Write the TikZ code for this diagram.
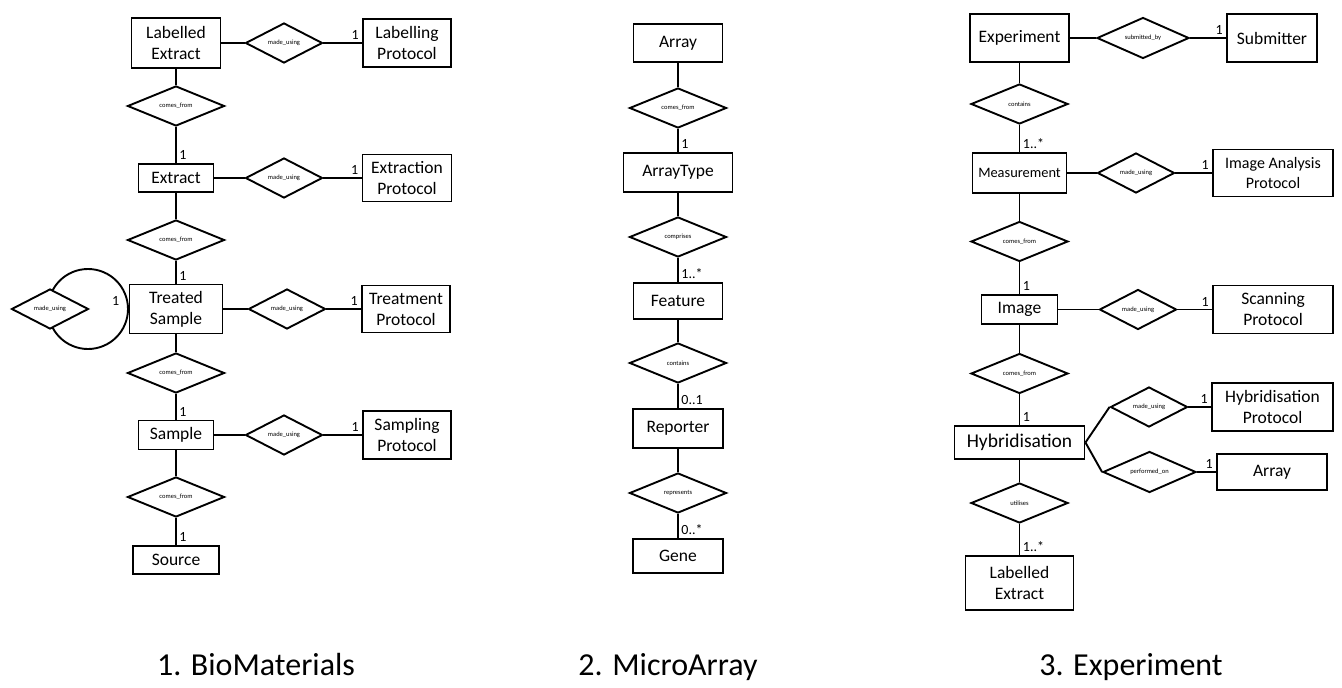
\documentclass[tikz,border=0pt]{standalone}
\usepackage{fontspec}
\setmainfont{Carlito}
\usetikzlibrary{shapes.geometric}

\begin{document}
\begin{tikzpicture}[x=1pt, y=-1pt, line width=1.9pt,
        ENT/.style = {draw, fill=white, align=center, inner sep=1pt,
                      font=\fontsize{17.5}{21}\selectfont},
        REL/.style = {diamond, draw, fill=white, aspect=2.4, inner sep=0pt,
                      minimum width=97pt, minimum height=40pt,
                      font=\fontsize{6.5}{7}\selectfont},
        narrow/.style = {minimum width=77pt},
        MUL/.style = {inner sep=2.5pt, font=\fontsize{14}{14}\selectfont},
        TTL/.style = {anchor=base, font=\fontsize{32}{32}\selectfont} ]

\useasboundingbox (0,0) rectangle (1342,688);

% 1. BioMaterials
\node[circle, draw, minimum size=80pt] (loop) at (88,309) {};
\node[ENT, minimum width=89pt, minimum height=50pt] (labext)    at (176,43)  {Labelled\\Extract};
\node[REL, narrow]                                  (mu1)       at (284,43)  {made\_using};
\node[ENT, minimum width=88pt, minimum height=48pt] (labprot)   at (407,43)  {Labelling\\Protocol};
\node[REL]                                          (cf1)       at (176,106) {comes\_from};
\node[ENT, minimum width=75pt, minimum height=28pt] (extract)   at (176,178) {Extract};
\node[REL, narrow]                                  (mu2)       at (284,178) {made\_using};
\node[ENT, minimum width=89pt, minimum height=47pt] (extprot)   at (407,178) {Extraction\\Protocol};
\node[REL]                                          (cf2)       at (176,240) {comes\_from};
\node[ENT, minimum width=93pt, minimum height=49pt] (treated)   at (176,309) {Treated\\Sample};
\node[REL, narrow]                                  (mu3)       at (287,309) {made\_using};
\node[ENT, minimum width=88pt, minimum height=47pt] (treatprot) at (406,309) {Treatment\\Protocol};
\node[REL, narrow]                                  (self)      at (50,309)  {made\_using};
\node[REL]                                          (cf3)       at (176,373) {comes\_from};
\node[ENT, minimum width=75pt, minimum height=29pt] (sample)    at (176,435) {Sample};
\node[REL, narrow]                                  (mu5)       at (284,435) {made\_using};
\node[ENT, minimum width=88pt, minimum height=48pt] (sampprot)  at (407,435) {Sampling\\Protocol};
\node[REL]                                          (cf4)       at (176,497) {comes\_from};
\node[ENT, minimum width=86pt, minimum height=28pt] (source)    at (176,560) {Source};
\node[TTL] (title1) at (256,675) {1. BioMaterials};

% 2. MicroArray
\node[ENT, minimum width=89pt, minimum height=38pt]  (array)    at (678,43)    {Array};
\node[REL]                                           (cf5)      at (678,108)   {comes\_from};
\node[ENT, minimum width=109pt, minimum height=39pt] (arrtype)  at (678,172.5) {ArrayType};
\node[REL]                                           (compr)    at (678,237)   {comprises};
\node[ENT, minimum width=89pt, minimum height=36pt]  (feature)  at (678,301)   {Feature};
\node[REL]                                           (contain)  at (678,363)   {contains};
\node[ENT, minimum width=90pt, minimum height=39pt]  (reporter) at (678,428.5) {Reporter};
\node[REL]                                           (repres)   at (678,493)   {represents};
\node[ENT, minimum width=90pt, minimum height=34pt]  (gene)     at (678,556)   {Gene};
\node[TTL] (title2) at (668,675) {2. MicroArray};

% 3. Experiment
\node[ENT, minimum width=99pt, minimum height=48pt]  (expt)      at (1019.5,38)  {Experiment};
\node[REL, minimum width=92pt, minimum height=41pt]  (subby)     at (1143,38)    {submitted\_by};
\node[ENT, minimum width=90pt, minimum height=48pt]  (submitter) at (1272,38)    {Submitter};
\node[REL]                                           (contain2)  at (1019.5,104) {contains};
\node[ENT, minimum width=94pt, minimum height=40pt,
      font=\fontsize{14.4}{17}\selectfont]           (measure)   at (1019.5,173) {Measurement};
\node[REL, narrow]                                   (mu6)       at (1136,173)   {made\_using};
\node[ENT, minimum width=120pt, minimum height=47pt,
      font=\fontsize{16}{20}\selectfont]             (iaprot)    at (1273,173)   {Image Analysis\\Protocol};
\node[REL]                                           (cf6)       at (1019.5,241.5) {comes\_from};
\node[ENT, minimum width=76pt, minimum height=29pt]  (image)     at (1019.5,309.5) {Image};
\node[REL, narrow]                                   (mu7)       at (1138,309.5) {made\_using};
\node[ENT, minimum width=120pt, minimum height=48pt] (scanprot)  at (1273,309.5) {Scanning\\Protocol};
\node[REL]                                           (cf7)       at (1019.5,373.5) {comes\_from};
\node[ENT, minimum width=130pt, minimum height=33pt,
      font=\fontsize{19.5}{22}\selectfont]           (hyb)       at (1019.5,442.5) {Hybridisation};
\node[REL, narrow]                                   (mu8)       at (1149,407)   {made\_using};
\node[ENT, minimum width=121pt, minimum height=48pt] (hybprot)   at (1272.5,407) {Hybridisation\\Protocol};
\node[REL, minimum width=93pt, minimum height=41pt]  (perf)      at (1149.5,472) {performed\_on};
\node[ENT, minimum width=110pt, minimum height=36pt] (arr2)      at (1272,472)   {Array};
\node[REL]                                           (util)      at (1019.5,503) {utilises};
\node[ENT, minimum width=108pt, minimum height=54pt] (labext2)   at (1019.5,583) {Labelled\\Extract};
\node[TTL] (title3) at (1131,675) {3. Experiment};

% connectors
\foreach \a/\b in {labext/mu1, labext/cf1, extract/mu2, extract/cf2, treated/mu3,
                   treated/cf3, sample/mu5, sample/cf4, array/cf5, arrtype/compr,
                   feature/contain, reporter/repres, expt/subby, expt/contain2,
                   measure/mu6, measure/cf6, image/mu7, image/cf7, hyb/util}
   \draw (\a) -- (\b);
\draw (hyb.east) -- (mu8.west);
\draw (hyb.east) -- (perf.west);

% cardinalities
\foreach \a/\b/\m in {cf1/extract/1, cf2/treated/1, cf3/sample/1, cf4/source/1,
                      cf5/arrtype/1, compr/feature/1..*, contain/reporter/0..1,
                      repres/gene/0..*, contain2/measure/1..*, cf6/image/1,
                      cf7/hyb/1, util/labext2/1..*}
   \draw (\a) -- node[MUL, pos=1, anchor=south west] {\m} (\b);
\foreach \a/\b in {mu1/labprot, mu2/extprot, mu3/treatprot, mu5/sampprot,
                   subby/submitter, mu6/iaprot, mu7/scanprot, mu8/hybprot, perf/arr2}
   \draw (\a) -- node[MUL, pos=1, anchor=south east] {1} (\b);
\node[MUL, anchor=south east, xshift=-6pt] (looplab) at (treated.west) {1};
\end{tikzpicture}
\end{document}
